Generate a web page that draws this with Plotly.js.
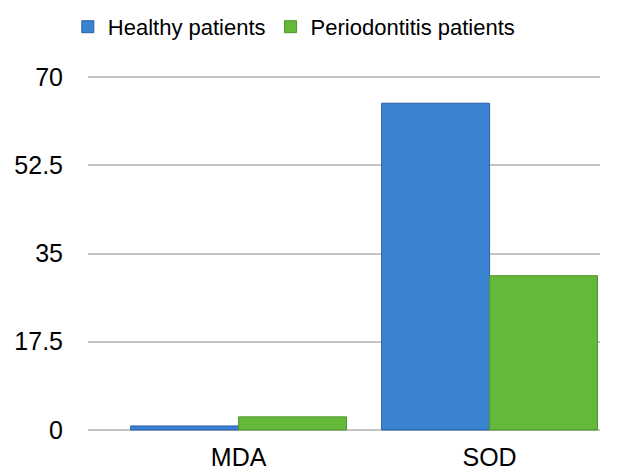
<!DOCTYPE html>
<html>
<head>
<meta charset="utf-8">
<script src="https://cdn.plot.ly/plotly-3.0.1.min.js"></script>
<style>html,body{margin:0;padding:0;background:#fff;}#chart{width:622px;height:472px;}</style>
</head>
<body>
<div id="chart"></div>
<script>
const categories = ["MDA", "SOD"];
const healthy = [0.8, 64.8];
const periodontitis = [2.6, 30.6];
const yTicks = [0, 17.5, 35, 52.5, 70];
const yTickText = ["0", "17.5", "35", "52.5", "70"];

const traces = [
  {
    type: "bar", name: "Healthy patients", x: categories, y: healthy,
    marker: {color: "#3a83d2", line: {color: "#2a5fa8", width: 1}}
  },
  {
    type: "bar", name: "Periodontitis patients", x: categories, y: periodontitis,
    marker: {color: "#64b83a", line: {color: "#4d952a", width: 1}}
  }
];

const layout = {
  width: 622, height: 472,
  margin: {l: 88, r: 22, t: 75, b: 40},
  paper_bgcolor: "#ffffff", plot_bgcolor: "#ffffff",
  font: {family: "Liberation Sans, Arial, sans-serif", size: 22, color: "#000"},
  barmode: "group", bargap: 0.14, bargroupgap: 0,
  showlegend: true,
  legend: {orientation: "h", x: 0.109, xanchor: "left", xref: "container",
           y: 0.943, yanchor: "middle", yref: "container",
           font: {size: 22}, traceorder: "normal", itemwidth: 30},
  xaxis: {range: [-0.6, 1.44], showgrid: false, zeroline: false, showline: false,
          ticks: "", ticklabelstandoff: 8, tickfont: {size: 25}},
  yaxis: {range: [-0.4, 70.4], tickvals: yTicks, ticktext: yTickText, showgrid: true,
          gridcolor: "#c4c4c4", gridwidth: 2, zeroline: false, showline: false,
          ticks: "", ticklabelstandoff: 24, tickfont: {size: 25}}
};

Plotly.newPlot("chart", traces, layout, {displayModeBar: false, staticPlot: true});
</script>
</body>
</html>
